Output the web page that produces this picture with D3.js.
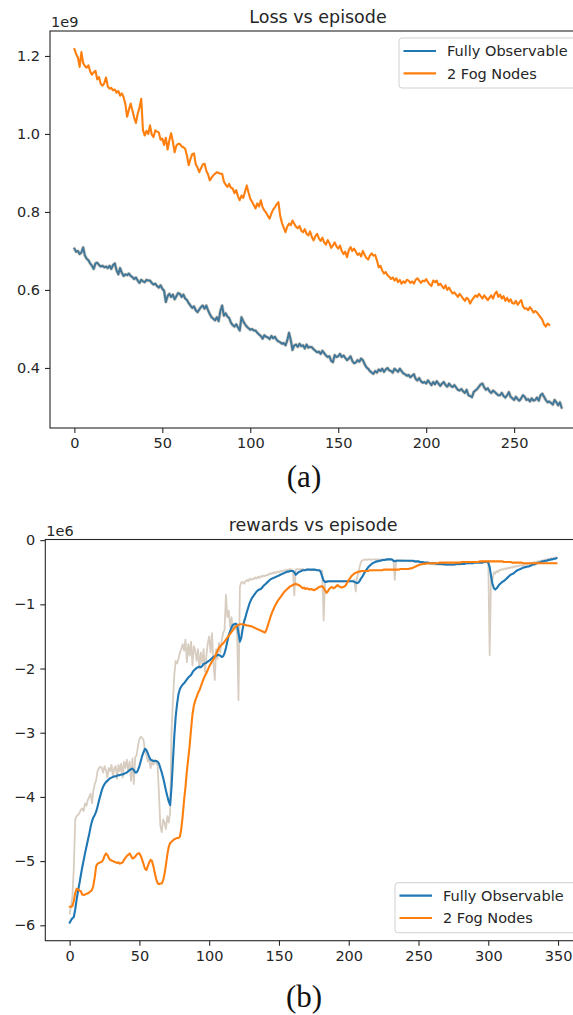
<!DOCTYPE html>
<html>
<head>
<meta charset="utf-8">
<script src="https://cdn.jsdelivr.net/npm/d3@7"></script>
<style>
body { margin: 0; background: #fff; }
</style>
</head>
<body>
<div id="my_dataviz"></div>
<script>
// loss per episode, in units of 1e9
var lossFully = [
 0.706,0.698,0.700,0.692,0.696,0.709,0.688,0.680,0.676,0.668,
 0.662,0.654,0.668,0.670,0.664,0.660,0.662,0.658,0.660,0.656,
 0.662,0.654,0.664,0.668,0.650,0.640,0.656,0.644,0.636,0.640,
 0.638,0.642,0.636,0.633,0.628,0.632,0.624,0.618,0.626,0.622,
 0.620,0.626,0.624,0.624,0.618,0.614,0.616,0.610,0.606,0.612,
 0.603,0.598,0.569,0.584,0.590,0.582,0.588,0.576,0.584,0.592,
 0.590,0.582,0.588,0.578,0.574,0.566,0.560,0.554,0.558,0.548,
 0.543,0.550,0.556,0.560,0.552,0.560,0.548,0.538,0.530,0.526,
 0.522,0.530,0.520,0.546,0.560,0.534,0.540,0.532,0.528,0.516,
 0.510,0.506,0.512,0.504,0.496,0.530,0.520,0.512,0.506,0.502,
 0.498,0.500,0.496,0.496,0.490,0.486,0.482,0.475,0.484,0.480,
 0.478,0.474,0.482,0.476,0.480,0.472,0.468,0.466,0.462,0.464,
 0.458,0.470,0.490,0.472,0.446,0.458,0.460,0.454,0.462,0.456,
 0.458,0.450,0.460,0.452,0.454,0.453,0.448,0.444,0.440,0.442,
 0.436,0.444,0.438,0.432,0.428,0.430,0.418,0.415,0.433,0.428,
 0.430,0.436,0.428,0.432,0.426,0.420,0.424,0.430,0.418,0.412,
 0.414,0.420,0.416,0.424,0.420,0.410,0.402,0.398,0.392,0.388,
 0.385,0.392,0.388,0.396,0.392,0.398,0.390,0.396,0.400,0.394,
 0.392,0.388,0.398,0.394,0.390,0.398,0.392,0.386,0.384,0.380,
 0.382,0.376,0.380,0.384,0.372,0.368,0.374,0.366,0.362,0.364,
 0.360,0.368,0.362,0.356,0.364,0.358,0.366,0.360,0.354,0.360,
 0.364,0.356,0.352,0.360,0.354,0.351,0.356,0.350,0.344,0.342,
 0.346,0.340,0.336,0.344,0.330,0.328,0.325,0.338,0.342,0.346,
 0.352,0.358,0.360,0.350,0.344,0.348,0.340,0.336,0.342,0.338,
 0.334,0.330,0.330,0.336,0.328,0.324,0.330,0.338,0.326,0.322,
 0.318,0.326,0.320,0.316,0.322,0.330,0.326,0.318,0.320,0.314,
 0.322,0.316,0.318,0.324,0.316,0.330,0.334,0.326,0.318,0.312,
 0.314,0.310,0.306,0.318,0.312,0.304,0.312,0.298
];
var lossFog = [
 1.218,1.205,1.196,1.172,1.210,1.182,1.174,1.170,1.176,1.160,
 1.152,1.158,1.162,1.140,1.146,1.128,1.124,1.130,1.145,1.122,
 1.116,1.118,1.112,1.114,1.106,1.110,1.098,1.104,1.094,1.076,
 1.044,1.062,1.078,1.060,1.042,1.028,1.052,1.068,1.090,1.010,
 0.996,1.008,1.000,1.022,0.998,0.992,1.009,1.006,1.004,0.985,
 0.988,0.972,0.990,0.960,0.984,1.002,0.980,0.953,0.970,0.975,
 0.974,0.968,0.966,0.962,0.944,0.920,0.936,0.948,0.950,0.922,
 0.914,0.902,0.912,0.922,0.924,0.906,0.896,0.881,0.888,0.894,
 0.898,0.902,0.900,0.898,0.898,0.878,0.870,0.864,0.872,0.862,
 0.860,0.848,0.856,0.840,0.830,0.842,0.836,0.852,0.868,0.850,
 0.834,0.826,0.818,0.809,0.822,0.814,0.830,0.812,0.804,0.798,
 0.790,0.783,0.796,0.806,0.812,0.820,0.825,0.790,0.772,0.760,
 0.748,0.762,0.770,0.766,0.778,0.770,0.762,0.758,0.764,0.752,
 0.748,0.756,0.744,0.740,0.750,0.736,0.727,0.738,0.744,0.732,
 0.726,0.734,0.722,0.716,0.728,0.720,0.708,0.714,0.722,0.712,
 0.706,0.714,0.700,0.692,0.698,0.684,0.702,0.710,0.700,0.706,
 0.698,0.690,0.694,0.686,0.700,0.690,0.682,0.678,0.688,0.694,
 0.688,0.690,0.676,0.658,0.662,0.650,0.642,0.646,0.638,0.634,
 0.628,0.632,0.624,0.630,0.620,0.626,0.616,0.622,0.618,0.626,
 0.624,0.618,0.622,0.616,0.626,0.630,0.624,0.618,0.624,0.622,
 0.628,0.620,0.614,0.610,0.624,0.620,0.624,0.612,0.616,0.610,
 0.604,0.612,0.600,0.606,0.598,0.591,0.594,0.588,0.582,0.590,
 0.584,0.578,0.572,0.580,0.576,0.565,0.574,0.580,0.586,0.582,
 0.590,0.584,0.578,0.586,0.580,0.574,0.580,0.586,0.578,0.590,
 0.596,0.582,0.588,0.578,0.584,0.572,0.580,0.570,0.576,0.566,
 0.565,0.572,0.562,0.568,0.574,0.558,0.552,0.553,0.548,0.556,
 0.550,0.542,0.546,0.542,0.536,0.530,0.524,0.512,0.506,0.514,
 0.510
];

// rewards per episode, in units of 1e6
var rewardRaw = [
 -5.82,-5.70,-5.55,-5.10,-4.35,-4.30,-4.28,-4.25,-4.20,-4.18,
 -4.22,-4.10,-4.14,-4.05,-4.00,-3.95,-4.10,-3.90,-3.80,-3.74,
 -3.60,-3.55,-3.53,-3.55,-3.62,-3.52,-3.58,-3.70,-3.55,-3.60,
 -3.50,-3.68,-3.55,-3.52,-3.72,-3.50,-3.60,-3.48,-3.70,-3.45,
 -3.55,-3.42,-3.60,-3.45,-3.75,-3.40,-3.80,-3.38,-3.35,-3.20,
 -3.10,-3.06,-3.08,-3.12,-3.30,-3.35,-3.45,-3.40,-3.55,-3.45,
 -3.50,-3.42,-3.48,-3.50,-3.95,-4.45,-4.55,-4.35,-4.40,-4.50,
 -4.30,-4.40,-4.25,-3.00,-2.50,-2.10,-1.88,-1.92,-1.85,-1.75,
 -1.70,-1.62,-1.72,-1.55,-1.90,-1.62,-1.80,-1.58,-1.95,-1.65,
 -1.72,-1.88,-1.70,-2.00,-1.75,-1.92,-1.70,-2.05,-1.80,-1.60,
 -1.50,-1.75,-1.45,-1.90,-2.18,-1.70,-1.85,-1.60,-1.75,-1.55,
 -1.45,-1.40,-0.85,-1.20,-1.10,-1.35,-1.20,-1.40,-1.30,-1.35,
 -1.45,-2.49,-0.73,-0.66,-0.65,-0.68,-0.64,-0.62,-0.64,-0.60,
 -0.62,-0.60,-0.61,-0.58,-0.60,-0.57,-0.59,-0.56,-0.57,-0.55,
 -0.56,-0.54,-0.55,-0.52,-0.53,-0.51,-0.52,-0.50,-0.51,-0.49,
 -0.50,-0.48,-0.49,-0.47,-0.48,-0.46,-0.47,-0.46,-0.45,-0.46,
 -0.47,-0.86,-0.46,-0.45,-0.46,-0.45,-0.46,-0.45,-0.46,-0.46,
 -0.45,-0.46,-0.46,-0.47,-0.46,-0.47,-0.46,-0.47,-0.46,-0.47,
 -0.47,-0.48,-1.25,-0.66,-0.64,-0.65,-0.64,-0.65,-0.64,-0.64,
 -0.65,-0.64,-0.64,-0.65,-0.64,-0.64,-0.65,-0.64,-0.64,-0.65,
 -0.64,-0.64,-0.63,-0.64,-0.62,-0.80,-0.58,-0.50,-0.40,-0.33,
 -0.31,-0.31,-0.30,-0.31,-0.30,-0.30,-0.31,-0.30,-0.30,-0.30,
 -0.30,-0.30,-0.30,-0.31,-0.30,-0.30,-0.30,-0.30,-0.31,-0.30,
 -0.30,-0.31,-0.31,-0.62,-0.31,-0.31,-0.31,-0.31,-0.32,-0.31,
 -0.32,-0.32,-0.32,-0.32,-0.33,-0.33,-0.33,-0.33,-0.34,-0.34,
 -0.34,-0.35,-0.35,-0.35,-0.36,-0.36,-0.36,-0.37,-0.37,-0.37,
 -0.37,-0.38,-0.38,-0.38,-0.38,-0.38,-0.38,-0.39,-0.39,-0.39,
 -0.39,-0.39,-0.39,-0.39,-0.39,-0.39,-0.38,-0.38,-0.38,-0.38,
 -0.38,-0.37,-0.37,-0.37,-0.36,-0.36,-0.36,-0.35,-0.35,-0.35,
 -0.35,-0.34,-0.34,-0.34,-0.34,-0.34,-0.33,-0.33,-0.33,-0.33,
 -0.33,-1.79,-0.55,-0.62,-0.50,-0.52,-0.48,-0.50,-0.46,-0.47,
 -0.45,-0.46,-0.44,-0.45,-0.43,-0.44,-0.42,-0.43,-0.41,-0.42,
 -0.40,-0.41,-0.40,-0.39,-0.40,-0.38,-0.39,-0.37,-0.38,-0.36,
 -0.37,-0.35,-0.36,-0.34,-0.35,-0.33,-0.34,-0.32,-0.33,-0.31,
 -0.32,-0.30,-0.31,-0.29,-0.30,-0.28,-0.29,-0.28,-0.27,-0.27
];
var rewardFully = [
 -5.96,-5.92,-5.89,-5.87,-5.75,-5.60,-5.47,-5.35,-5.22,-5.10,
 -4.99,-4.88,-4.78,-4.68,-4.58,-4.47,-4.38,-4.32,-4.28,-4.23,
 -4.15,-4.06,-3.98,-3.90,-3.84,-3.80,-3.77,-3.75,-3.73,-3.71,
 -3.70,-3.69,-3.68,-3.68,-3.67,-3.66,-3.66,-3.65,-3.65,-3.64,
 -3.63,-3.62,-3.60,-3.58,-3.57,-3.56,-3.58,-3.62,-3.62,-3.58,
 -3.52,-3.44,-3.36,-3.30,-3.25,-3.27,-3.32,-3.38,-3.42,-3.43,
 -3.44,-3.44,-3.44,-3.45,-3.48,-3.55,-3.62,-3.70,-3.80,-3.90,
 -3.99,-4.07,-4.13,-3.85,-3.45,-3.05,-2.75,-2.55,-2.40,-2.32,
 -2.28,-2.25,-2.23,-2.20,-2.17,-2.14,-2.12,-2.10,-2.06,-2.03,
 -2.01,-1.99,-1.98,-1.97,-1.98,-1.96,-1.93,-1.92,-1.91,-1.89,
 -1.88,-1.86,-1.84,-1.82,-1.81,-1.80,-1.79,-1.79,-1.80,-1.82,
 -1.81,-1.76,-1.68,-1.58,-1.48,-1.42,-1.36,-1.32,-1.31,-1.30,
 -1.32,-1.45,-1.58,-1.52,-1.38,-1.27,-1.20,-1.12,-1.05,-0.98,
 -0.93,-0.89,-0.86,-0.83,-0.80,-0.78,-0.77,-0.76,-0.74,-0.71,
 -0.69,-0.67,-0.65,-0.63,-0.61,-0.60,-0.59,-0.58,-0.57,-0.56,
 -0.55,-0.54,-0.53,-0.52,-0.51,-0.50,-0.49,-0.49,-0.48,-0.48,
 -0.48,-0.50,-0.54,-0.52,-0.50,-0.49,-0.48,-0.47,-0.47,-0.47,
 -0.46,-0.46,-0.46,-0.46,-0.46,-0.46,-0.46,-0.47,-0.47,-0.47,
 -0.50,-0.57,-0.63,-0.65,-0.65,-0.64,-0.64,-0.64,-0.64,-0.64,
 -0.64,-0.64,-0.64,-0.64,-0.64,-0.64,-0.64,-0.64,-0.64,-0.64,
 -0.64,-0.64,-0.64,-0.64,-0.65,-0.66,-0.67,-0.66,-0.63,-0.59,
 -0.56,-0.52,-0.48,-0.45,-0.42,-0.40,-0.38,-0.36,-0.35,-0.34,
 -0.33,-0.33,-0.32,-0.32,-0.31,-0.31,-0.31,-0.30,-0.30,-0.30,
 -0.30,-0.30,-0.32,-0.33,-0.32,-0.32,-0.32,-0.32,-0.32,-0.32,
 -0.32,-0.32,-0.32,-0.32,-0.32,-0.32,-0.32,-0.33,-0.33,-0.33,
 -0.33,-0.34,-0.34,-0.34,-0.35,-0.35,-0.35,-0.35,-0.36,-0.36,
 -0.36,-0.36,-0.36,-0.37,-0.37,-0.37,-0.37,-0.37,-0.37,-0.38,
 -0.38,-0.38,-0.38,-0.38,-0.38,-0.38,-0.38,-0.37,-0.37,-0.37,
 -0.37,-0.37,-0.37,-0.37,-0.36,-0.36,-0.36,-0.36,-0.36,-0.36,
 -0.35,-0.35,-0.35,-0.35,-0.35,-0.35,-0.35,-0.34,-0.34,-0.34,
 -0.35,-0.42,-0.56,-0.68,-0.75,-0.77,-0.75,-0.72,-0.69,-0.67,
 -0.65,-0.64,-0.62,-0.60,-0.58,-0.56,-0.54,-0.53,-0.52,-0.50,
 -0.48,-0.47,-0.46,-0.45,-0.44,-0.43,-0.42,-0.42,-0.41,-0.41,
 -0.40,-0.39,-0.38,-0.38,-0.37,-0.36,-0.35,-0.35,-0.34,-0.33,
 -0.33,-0.32,-0.32,-0.31,-0.31,-0.30,-0.30,-0.29,-0.29,-0.28
];
var rewardFog = [
 -5.71,-5.71,-5.70,-5.62,-5.50,-5.43,-5.44,-5.46,-5.47,-5.52,
 -5.53,-5.52,-5.51,-5.50,-5.49,-5.47,-5.45,-5.38,-5.25,-5.08,
 -5.04,-5.03,-5.02,-5.01,-4.98,-4.92,-4.88,-4.90,-4.95,-4.98,
 -4.99,-5.00,-5.01,-5.02,-5.03,-5.02,-5.04,-5.03,-5.02,-4.98,
 -4.95,-4.92,-4.90,-4.88,-4.92,-4.96,-4.95,-4.93,-4.90,-4.88,
 -4.88,-4.92,-4.98,-5.05,-5.12,-5.14,-5.08,-5.02,-4.98,-5.00,
 -5.08,-5.18,-5.28,-5.34,-5.36,-5.35,-5.35,-5.30,-5.20,-5.06,
 -4.90,-4.78,-4.72,-4.70,-4.68,-4.66,-4.65,-4.64,-4.64,-4.62,
 -4.50,-4.30,-4.05,-3.85,-3.60,-3.40,-3.20,-2.95,-2.72,-2.58,
 -2.50,-2.44,-2.38,-2.34,-2.28,-2.22,-2.16,-2.11,-2.07,-2.02,
 -1.97,-1.93,-1.89,-1.86,-1.82,-1.77,-1.72,-1.68,-1.65,-1.63,
 -1.61,-1.58,-1.55,-1.52,-1.49,-1.46,-1.43,-1.40,-1.37,-1.35,
 -1.33,-1.32,-1.31,-1.31,-1.31,-1.32,-1.32,-1.33,-1.33,-1.34,
 -1.34,-1.35,-1.36,-1.37,-1.38,-1.39,-1.40,-1.41,-1.42,-1.43,
 -1.44,-1.40,-1.33,-1.26,-1.19,-1.13,-1.08,-1.03,-0.99,-0.95,
 -0.92,-0.89,-0.86,-0.83,-0.80,-0.78,-0.76,-0.74,-0.72,-0.71,
 -0.70,-0.69,-0.68,-0.69,-0.70,-0.71,-0.73,-0.75,-0.74,-0.76,
 -0.75,-0.76,-0.77,-0.76,-0.77,-0.78,-0.77,-0.76,-0.74,-0.73,
 -0.72,-0.72,-0.74,-0.78,-0.82,-0.80,-0.76,-0.74,-0.73,-0.75,
 -0.74,-0.72,-0.70,-0.72,-0.73,-0.74,-0.73,-0.72,-0.70,-0.66,
 -0.62,-0.59,-0.56,-0.54,-0.52,-0.51,-0.50,-0.49,-0.49,-0.48,
 -0.48,-0.48,-0.48,-0.48,-0.48,-0.47,-0.47,-0.47,-0.47,-0.47,
 -0.47,-0.47,-0.47,-0.47,-0.47,-0.46,-0.46,-0.46,-0.46,-0.46,
 -0.46,-0.46,-0.46,-0.46,-0.46,-0.46,-0.46,-0.45,-0.45,-0.45,
 -0.45,-0.45,-0.45,-0.45,-0.44,-0.44,-0.43,-0.42,-0.41,-0.40,
 -0.39,-0.38,-0.38,-0.37,-0.37,-0.37,-0.36,-0.36,-0.36,-0.36,
 -0.36,-0.36,-0.36,-0.36,-0.36,-0.35,-0.35,-0.35,-0.35,-0.35,
 -0.35,-0.35,-0.35,-0.35,-0.35,-0.35,-0.35,-0.35,-0.35,-0.35,
 -0.35,-0.34,-0.34,-0.34,-0.34,-0.34,-0.34,-0.34,-0.34,-0.34,
 -0.34,-0.34,-0.34,-0.34,-0.33,-0.33,-0.33,-0.33,-0.33,-0.33,
 -0.33,-0.33,-0.33,-0.33,-0.33,-0.33,-0.33,-0.33,-0.33,-0.33,
 -0.33,-0.34,-0.34,-0.34,-0.34,-0.34,-0.34,-0.35,-0.35,-0.35,
 -0.35,-0.35,-0.35,-0.35,-0.35,-0.36,-0.36,-0.36,-0.36,-0.36,
 -0.36,-0.36,-0.36,-0.36,-0.36,-0.36,-0.36,-0.36,-0.36,-0.36,
 -0.36,-0.36,-0.36,-0.36,-0.36,-0.36,-0.36,-0.36,-0.36,-0.36
];

var lossTicksX = [0, 50, 100, 150, 200, 250];
var lossTicksY = [0.4, 0.6, 0.8, 1.0, 1.2];
var rewardTicksX = [0, 50, 100, 150, 200, 250, 300, 350];
var rewardTicksY = [0, -1, -2, -3, -4, -5, -6];
var seriesNames = ["Fully Observable", "2 Fog Nodes"];

var blue = "#1f77b4", orange = "#ff7f0e", rawColor = "#d8cdc1";

var svg = d3.select("#my_dataviz")
  .append("svg")
    .attr("width", 573)
    .attr("height", 1015)
    .style("display", "block")
    .style("font-family", "'DejaVu Sans', sans-serif");

function drawPanel(p) {
  var x = d3.scaleLinear().domain(p.xDomain).range([p.left, p.right]);
  var y = d3.scaleLinear().domain(p.yDomain).range([p.bottom, p.top]);
  var g = svg.append("g");

  g.append("clipPath").attr("id", p.id + "-clip")
    .append("rect")
      .attr("x", p.left).attr("y", p.top)
      .attr("width", p.right - p.left).attr("height", p.bottom - p.top);

  var plot = g.append("g").attr("clip-path", "url(#" + p.id + "-clip)");
  var line = d3.line()
    .x(function(d, i) { return x(i); })
    .y(function(d) { return y(d); });

  p.series.forEach(function(s) {
    plot.append("path")
      .datum(s.values)
      .attr("fill", "none")
      .attr("stroke", s.color)
      .attr("stroke-width", s.width)
      .attr("stroke-linejoin", "round")
      .attr("stroke-linecap", "round")
      .attr("d", line);
  });

  // axes
  var ax = g.append("g")
    .attr("transform", "translate(0," + p.bottom + ")")
    .call(d3.axisBottom(x).tickValues(p.xTicks).tickSize(5).tickPadding(5).tickFormat(d3.format("d")));
  var ay = g.append("g")
    .attr("transform", "translate(" + p.left + ",0)")
    .call(d3.axisLeft(y).tickValues(p.yTicks).tickSize(5).tickPadding(5).tickFormat(d3.format(p.yFormat)));
  [ax, ay].forEach(function(a) {
    a.select(".domain").remove();
    a.selectAll("line").attr("stroke", "#262626").attr("stroke-width", 1.1);
    a.selectAll("text")
      .attr("fill", "#262626")
      .style("font-size", "14.5px")
      .style("font-family", "'DejaVu Sans', sans-serif");
  });

  // spines (right one falls outside the page)
  g.append("rect")
    .attr("x", p.left).attr("y", p.top)
    .attr("width", p.right - p.left).attr("height", p.bottom - p.top)
    .attr("fill", "none")
    .attr("stroke", "#262626")
    .attr("stroke-width", 1.1);

  g.append("text")
    .attr("x", (p.left + p.right) / 2)
    .attr("y", p.top - 8.5)
    .attr("text-anchor", "middle")
    .attr("fill", "#262626")
    .style("font-size", "17.5px")
    .text(p.title);

  g.append("text")
    .attr("x", p.left + 1)
    .attr("y", p.top - 4)
    .attr("fill", "#262626")
    .style("font-size", "14.5px")
    .text(p.offset);

  // legend
  var lg = g.append("g").attr("transform", "translate(" + p.legend[0] + "," + p.legend[1] + ")");
  lg.append("rect")
    .attr("x", 0).attr("y", 0)
    .attr("width", 182).attr("height", 50)
    .attr("rx", 3)
    .attr("fill", "#fff").attr("fill-opacity", 0.8)
    .attr("stroke", "#d0d0d0").attr("stroke-width", 1);
  [blue, orange].forEach(function(c, i) {
    var yy = 13 + i * 22.3;
    lg.append("line")
      .attr("x1", 4.5).attr("x2", 37)
      .attr("y1", yy).attr("y2", yy)
      .attr("stroke", c).attr("stroke-width", 2.2);
    lg.append("text")
      .attr("x", 48).attr("y", yy)
      .attr("dy", "0.36em")
      .attr("fill", "#262626")
      .style("font-size", "14.5px")
      .text(seriesNames[i]);
  });

  svg.append("text")
    .attr("x", 304)
    .attr("y", p.caption[1])
    .attr("text-anchor", "middle")
    .attr("fill", "#111")
    .style("font-family", "'Liberation Serif', 'Times New Roman', serif")
    .style("font-size", "31px")
    .text(p.caption[0]);
}

drawPanel({
  id: "loss",
  left: 50, right: 586, top: 31, bottom: 428,
  xDomain: [-13.85, 290.85], yDomain: [0.246, 1.264],
  xTicks: lossTicksX, yTicks: lossTicksY, yFormat: ".1f",
  title: "Loss vs episode", offset: "1e9",
  legend: [399, 38], caption: ["(a)", 487],
  series: [
    { values: lossFully, color: rawColor, width: 3.4 },
    { values: lossFully, color: "#41789a", width: 2 },
    { values: lossFog, color: orange, width: 2.1 }
  ]
});

drawPanel({
  id: "reward",
  left: 45.3, right: 581, top: 539.5, bottom: 940.7,
  xDomain: [-17.45, 366.45], yDomain: [-6.24, 0.01],
  xTicks: rewardTicksX, yTicks: rewardTicksY, yFormat: "d",
  title: "rewards vs episode", offset: "1e6",
  legend: [395, 882.7], caption: ["(b)", 1007],
  series: [
    { values: rewardRaw, color: rawColor, width: 1.8 },
    { values: rewardFully, color: blue, width: 2.1 },
    { values: rewardFog, color: orange, width: 2.1 }
  ]
});
</script>
</body>
</html>
